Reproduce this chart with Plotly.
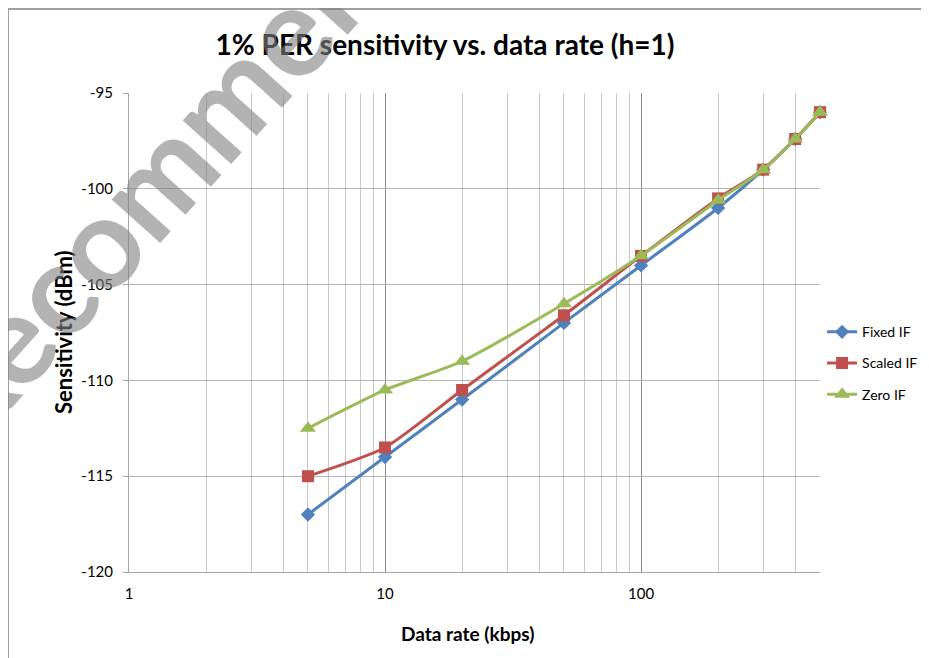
import math
import plotly.graph_objects as go

data_rate = [5, 10, 20, 50, 100, 200, 300, 400, 500]
fixed_if = [-117, -114, -111, -107, -104, -101, -99, -97.4, -96]
scaled_if = [-115, -113.5, -110.5, -106.6, -103.5, -100.5, -99, -97.4, -96]
zero_if = [-112.5, -110.5, -109, -106, -103.5, -100.6, -99, -97.4, -96]
series_names = ["Fixed IF", "Scaled IF", "Zero IF"]
x_tick_vals = [1, 10, 100]
x_tick_text = ["1", "10", "100"]
y_tick_vals = [-120, -115, -110, -105, -100, -95]
y_tick_text = ["-120", "-115", "-110", "-105", "-100", "-95"]
x_min, x_max = 1, 500

FONT = "Lato"
colors = ["#4F81BD", "#C0504D", "#9BBB59"]
symbols = ["diamond", "square", "triangle-up"]
sizes = [11, 12, 14]

# page body has an 8px margin; compensate so the plot area lands at
# x 129..820, y 93..572 of the viewport
OFF = 8
W, H = 929, 658
L, R, T, B = 129 - OFF, W + OFF - 820, 93 - OFF, H + OFF - 572
PW, PH = W - L - R, H - T - B

fig = go.Figure()
for i, (name, ys) in enumerate(zip(series_names, [fixed_if, scaled_if, zero_if])):
    fig.add_trace(go.Scatter(
        x=data_rate, y=ys, name=name, mode="lines+markers",
        line=dict(color=colors[i], width=3, shape="spline", smoothing=0.6),
        marker=dict(symbol=symbols[i], size=sizes[i], color=colors[i]),
        legendgroup=name, cliponaxis=False,
    ))

fig.update_layout(
    width=W, height=H,
    margin=dict(l=L, r=R, t=T, b=B),
    paper_bgcolor="white", plot_bgcolor="white",
    font=dict(family=FONT, size=14, color="black"),
    showlegend=True,
    legend=dict(x=1.003, xanchor="left", y=0.534, yanchor="top",
                font=dict(size=14), tracegroupgap=10, bgcolor="rgba(0,0,0,0)"),
    title=dict(text="<b>1% PER sensitivity vs. data rate (h=1)</b>",
               x=(445 - OFF) / W, xanchor="center",
               y=1 - (45 - OFF) / H, yanchor="middle", font=dict(size=28)),
)

fig.update_xaxes(
    type="log", range=[math.log10(x_min), math.log10(x_max) + 1e-9],
    tickvals=x_tick_vals, ticktext=x_tick_text,
    showgrid=True, gridcolor="#8c8c8c", gridwidth=1,
    minor=dict(showgrid=True, gridcolor="#c8c8c8", gridwidth=1, dtick="D1"),
    showline=True, linecolor="#a6a6a6", linewidth=1, ticks="", zeroline=False,
    tickfont=dict(size=15), ticklabelstandoff=8,
)
fig.update_yaxes(
    range=[-120, -95], tickvals=y_tick_vals, ticktext=y_tick_text,
    showgrid=True, gridcolor="#b4b4b4", gridwidth=1,
    showline=True, linecolor="#a6a6a6", linewidth=1, ticks="outside", ticklen=5,
    tickcolor="#a6a6a6", zeroline=False, tickfont=dict(size=15), ticklabelstandoff=7,
)

def px_x(px):
    return (px - 129) / PW

def px_y(py):
    return (572 - py) / PH

# axis titles
fig.add_annotation(text="<b>Data rate (kbps)</b>", xref="paper", yref="paper",
                   x=px_x(467), y=px_y(633), showarrow=False,
                   font=dict(size=19), xanchor="center", yanchor="middle")
fig.add_annotation(text="<b>Sensitivity (dBm)</b>", xref="paper", yref="paper",
                   x=px_x(63), y=px_y(332), showarrow=False,
                   textangle=-90, font=dict(size=22), xanchor="center", yanchor="middle")

# watermark
fig.add_annotation(text="<b>Recommended</b>", xref="paper", yref="paper",
                   x=px_x(214), y=px_y(110), showarrow=False,
                   textangle=-48, font=dict(size=127, color="rgba(128,128,128,0.6)", family=FONT),
                   xanchor="center", yanchor="middle")

# chart-area frame (left and top edges)
fx0 = px_x(8)
fy0 = px_y(9)
fig.add_shape(type="line", xref="paper", yref="paper", x0=fx0, x1=fx0, y0=fy0, y1=-0.25,
              line=dict(color="#a0a0a0", width=2))
fig.add_shape(type="line", xref="paper", yref="paper", x0=fx0, x1=1.25, y0=fy0, y1=fy0,
              line=dict(color="#a0a0a0", width=2))

fig.write_html("out.html")
